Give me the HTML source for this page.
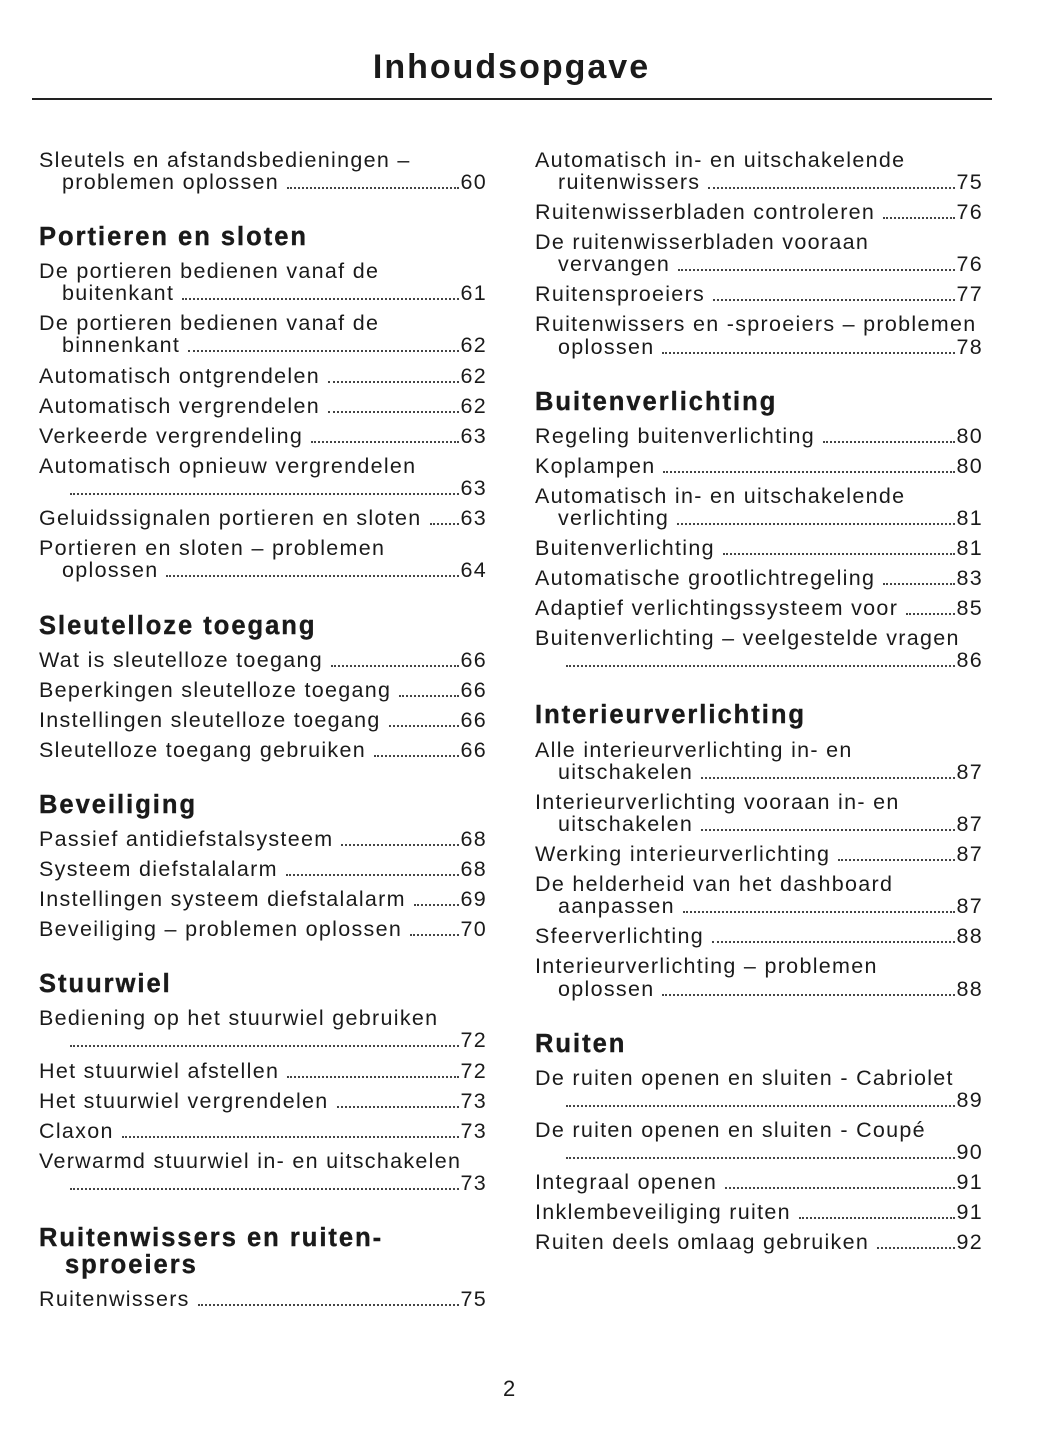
<!DOCTYPE html>
<html><head><meta charset="utf-8"><style>
body{margin:0;background:#fff;}
#p{position:relative;width:1055px;height:1448px;overflow:hidden;font-family:"Liberation Sans",sans-serif;color:#1a1a1a;}
.t{position:absolute;top:48px;left:0;width:1023px;text-align:center;font-weight:bold;font-size:34px;letter-spacing:2px;}
.rule{position:absolute;left:32px;top:98px;width:960px;height:1.5px;background:#222;}
.x{position:absolute;height:22px;line-height:22px;font-size:21.5px;letter-spacing:1.3px;white-space:nowrap;display:flex;align-items:flex-end;width:448px;box-sizing:border-box;}
.L{left:39px}.R{left:535px}
.i{padding-left:23px}
.d{flex:1;border-bottom:2px dotted #444;margin:0 1px 4px 8px;}
.h{position:absolute;font-weight:bold;font-size:25.5px;letter-spacing:2px;line-height:28px;white-space:nowrap;-webkit-text-stroke:0.4px #1a1a1a;}
.pg{position:absolute;top:1376px;left:503px;font-size:22px;}
</style></head><body><div id="p">
<div class="t">Inhoudsopgave</div><div class="rule"></div>

<div class="x L" style="top:149px">Sleutels en afstandsbedieningen –</div>
<div class="x L i" style="top:171px">problemen oplossen<span class="d"></span>60</div>
<div class="h L" style="top:223px;left:39px">Portieren en sloten</div>
<div class="x L" style="top:260px">De portieren bedienen vanaf de</div>
<div class="x L i" style="top:282px">buitenkant<span class="d"></span>61</div>
<div class="x L" style="top:312px">De portieren bedienen vanaf de</div>
<div class="x L i" style="top:334px">binnenkant<span class="d"></span>62</div>
<div class="x L" style="top:365px">Automatisch ontgrendelen<span class="d"></span>62</div>
<div class="x L" style="top:395px">Automatisch vergrendelen<span class="d"></span>62</div>
<div class="x L" style="top:425px">Verkeerde vergrendeling<span class="d"></span>63</div>
<div class="x L" style="top:455px">Automatisch opnieuw vergrendelen</div>
<div class="x L i" style="top:477px"><span class="d"></span>63</div>
<div class="x L" style="top:507px">Geluidssignalen portieren en sloten<span class="d"></span>63</div>
<div class="x L" style="top:537px">Portieren en sloten – problemen</div>
<div class="x L i" style="top:559px">oplossen<span class="d"></span>64</div>
<div class="h" style="top:612px;left:39px">Sleutelloze toegang</div>
<div class="x L" style="top:649px">Wat is sleutelloze toegang<span class="d"></span>66</div>
<div class="x L" style="top:679px">Beperkingen sleutelloze toegang<span class="d"></span>66</div>
<div class="x L" style="top:709px">Instellingen sleutelloze toegang<span class="d"></span>66</div>
<div class="x L" style="top:739px">Sleutelloze toegang gebruiken<span class="d"></span>66</div>
<div class="h" style="top:791px;left:39px">Beveiliging</div>
<div class="x L" style="top:828px">Passief antidiefstalsysteem<span class="d"></span>68</div>
<div class="x L" style="top:858px">Systeem diefstalalarm<span class="d"></span>68</div>
<div class="x L" style="top:888px">Instellingen systeem diefstalalarm<span class="d"></span>69</div>
<div class="x L" style="top:918px">Beveiliging – problemen oplossen<span class="d"></span>70</div>
<div class="h" style="top:970px;left:39px">Stuurwiel</div>
<div class="x L" style="top:1007px">Bediening op het stuurwiel gebruiken</div>
<div class="x L i" style="top:1029px"><span class="d"></span>72</div>
<div class="x L" style="top:1060px">Het stuurwiel afstellen<span class="d"></span>72</div>
<div class="x L" style="top:1090px">Het stuurwiel vergrendelen<span class="d"></span>73</div>
<div class="x L" style="top:1120px">Claxon<span class="d"></span>73</div>
<div class="x L" style="top:1150px">Verwarmd stuurwiel in- en uitschakelen</div>
<div class="x L i" style="top:1172px"><span class="d"></span>73</div>
<div class="h" style="top:1224px;left:39px">Ruitenwissers en ruiten-</div>
<div class="h" style="top:1251px;left:65px">sproeiers</div>
<div class="x L" style="top:1288px">Ruitenwissers<span class="d"></span>75</div>

<div class="x R" style="top:149px">Automatisch in- en uitschakelende</div>
<div class="x R i" style="top:171px">ruitenwissers<span class="d"></span>75</div>
<div class="x R" style="top:201px">Ruitenwisserbladen controleren<span class="d"></span>76</div>
<div class="x R" style="top:231px">De ruitenwisserbladen vooraan</div>
<div class="x R i" style="top:253px">vervangen<span class="d"></span>76</div>
<div class="x R" style="top:283px">Ruitensproeiers<span class="d"></span>77</div>
<div class="x R" style="top:313px">Ruitenwissers en -sproeiers – problemen</div>
<div class="x R i" style="top:336px">oplossen<span class="d"></span>78</div>
<div class="h" style="top:388px;left:535px">Buitenverlichting</div>
<div class="x R" style="top:425px">Regeling buitenverlichting<span class="d"></span>80</div>
<div class="x R" style="top:455px">Koplampen<span class="d"></span>80</div>
<div class="x R" style="top:485px">Automatisch in- en uitschakelende</div>
<div class="x R i" style="top:507px">verlichting<span class="d"></span>81</div>
<div class="x R" style="top:537px">Buitenverlichting<span class="d"></span>81</div>
<div class="x R" style="top:567px">Automatische grootlichtregeling<span class="d"></span>83</div>
<div class="x R" style="top:597px">Adaptief verlichtingssysteem voor<span class="d"></span>85</div>
<div class="x R" style="top:627px">Buitenverlichting – veelgestelde vragen</div>
<div class="x R i" style="top:649px"><span class="d"></span>86</div>
<div class="h" style="top:701px;left:535px">Interieurverlichting</div>
<div class="x R" style="top:739px">Alle interieurverlichting in- en</div>
<div class="x R i" style="top:761px">uitschakelen<span class="d"></span>87</div>
<div class="x R" style="top:791px">Interieurverlichting vooraan in- en</div>
<div class="x R i" style="top:813px">uitschakelen<span class="d"></span>87</div>
<div class="x R" style="top:843px">Werking interieurverlichting<span class="d"></span>87</div>
<div class="x R" style="top:873px">De helderheid van het dashboard</div>
<div class="x R i" style="top:895px">aanpassen<span class="d"></span>87</div>
<div class="x R" style="top:925px">Sfeerverlichting<span class="d"></span>88</div>
<div class="x R" style="top:955px">Interieurverlichting – problemen</div>
<div class="x R i" style="top:978px">oplossen<span class="d"></span>88</div>
<div class="h" style="top:1030px;left:535px">Ruiten</div>
<div class="x R" style="top:1067px">De ruiten openen en sluiten - Cabriolet</div>
<div class="x R i" style="top:1089px"><span class="d"></span>89</div>
<div class="x R" style="top:1119px">De ruiten openen en sluiten - Coupé</div>
<div class="x R i" style="top:1141px"><span class="d"></span>90</div>
<div class="x R" style="top:1171px">Integraal openen<span class="d"></span>91</div>
<div class="x R" style="top:1201px">Inklembeveiliging ruiten<span class="d"></span>91</div>
<div class="x R" style="top:1231px">Ruiten deels omlaag gebruiken<span class="d"></span>92</div>

<div class="pg">2</div>
</div></body></html>
